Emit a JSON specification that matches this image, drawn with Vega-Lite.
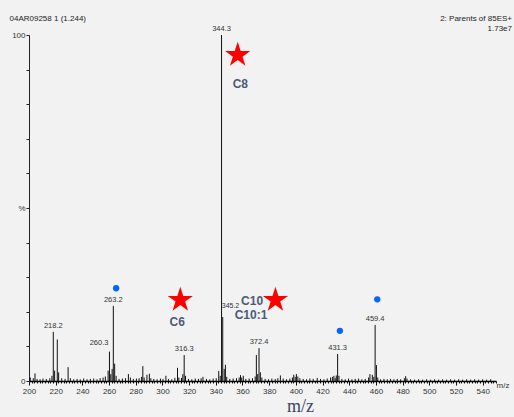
{
  "$schema": "https://vega.github.io/schema/vega-lite/v6.json",
  "width": 467,
  "height": 346,
  "autosize": {"type": "none"},
  "padding": {"left": 29, "top": 35, "right": 18, "bottom": 36},
  "background": "#f2f2f2",
  "config": {"view": {"stroke": null}, "font": "Liberation Sans"},
  "title": {
    "text": "2: Parents of 85ES+",
    "subtitle": "1.73e7",
    "anchor": "end",
    "frame": "group",
    "fontSize": 8,
    "subtitleFontSize": 8,
    "fontWeight": "normal",
    "color": "#222222",
    "subtitleColor": "#222222",
    "subtitlePadding": 2,
    "dx": 16,
    "dy": 23,
    "offset": 4,
    "font": "Liberation Sans",
    "subtitleFont": "Liberation Sans"
  },
  "datasets": {
    "spectrum": [
      {"mz": 201.0, "intensity": 1.0}, {"mz": 203.2, "intensity": 0.8}, {"mz": 204.5, "intensity": 2.2},
      {"mz": 206.0, "intensity": 0.6}, {"mz": 208.3, "intensity": 0.5}, {"mz": 210.5, "intensity": 0.7},
      {"mz": 213.0, "intensity": 0.6}, {"mz": 215.6, "intensity": 0.8}, {"mz": 217.2, "intensity": 1.5},
      {"mz": 218.2, "intensity": 14.2}, {"mz": 219.2, "intensity": 3.0}, {"mz": 221.2, "intensity": 12.0},
      {"mz": 222.2, "intensity": 2.5}, {"mz": 224.5, "intensity": 0.8}, {"mz": 227.0, "intensity": 0.6},
      {"mz": 229.3, "intensity": 4.0}, {"mz": 231.0, "intensity": 0.8}, {"mz": 233.5, "intensity": 0.5},
      {"mz": 236.0, "intensity": 0.6}, {"mz": 238.4, "intensity": 0.5}, {"mz": 241.0, "intensity": 0.7},
      {"mz": 243.5, "intensity": 0.5}, {"mz": 246.0, "intensity": 0.6}, {"mz": 248.5, "intensity": 0.7},
      {"mz": 251.0, "intensity": 0.5}, {"mz": 253.3, "intensity": 0.8}, {"mz": 255.5, "intensity": 1.0},
      {"mz": 257.2, "intensity": 1.3}, {"mz": 259.3, "intensity": 3.0}, {"mz": 260.3, "intensity": 8.5},
      {"mz": 261.3, "intensity": 2.0}, {"mz": 262.3, "intensity": 3.5}, {"mz": 263.2, "intensity": 21.7},
      {"mz": 264.2, "intensity": 5.0}, {"mz": 265.3, "intensity": 1.5}, {"mz": 267.5, "intensity": 0.6},
      {"mz": 270.0, "intensity": 0.7}, {"mz": 272.3, "intensity": 0.8}, {"mz": 274.5, "intensity": 2.0},
      {"mz": 276.0, "intensity": 1.0}, {"mz": 278.2, "intensity": 0.6}, {"mz": 280.5, "intensity": 0.7},
      {"mz": 282.5, "intensity": 0.8}, {"mz": 284.3, "intensity": 1.2}, {"mz": 285.3, "intensity": 4.3},
      {"mz": 286.3, "intensity": 1.0}, {"mz": 288.4, "intensity": 1.8}, {"mz": 290.2, "intensity": 2.1},
      {"mz": 291.3, "intensity": 0.8}, {"mz": 293.5, "intensity": 0.6}, {"mz": 296.0, "intensity": 0.5},
      {"mz": 298.5, "intensity": 0.7}, {"mz": 300.4, "intensity": 0.6}, {"mz": 302.6, "intensity": 1.5},
      {"mz": 304.5, "intensity": 0.6}, {"mz": 307.0, "intensity": 0.5}, {"mz": 309.3, "intensity": 0.9},
      {"mz": 311.3, "intensity": 3.8}, {"mz": 312.3, "intensity": 1.0}, {"mz": 314.3, "intensity": 0.9},
      {"mz": 315.3, "intensity": 2.0}, {"mz": 316.3, "intensity": 7.5}, {"mz": 317.3, "intensity": 1.5},
      {"mz": 319.5, "intensity": 0.6}, {"mz": 322.0, "intensity": 0.5}, {"mz": 324.6, "intensity": 0.7},
      {"mz": 327.0, "intensity": 0.6}, {"mz": 329.0, "intensity": 0.8}, {"mz": 330.4, "intensity": 1.2},
      {"mz": 333.0, "intensity": 0.6}, {"mz": 335.5, "intensity": 0.5}, {"mz": 338.0, "intensity": 0.7},
      {"mz": 340.3, "intensity": 0.8}, {"mz": 342.2, "intensity": 2.9}, {"mz": 343.3, "intensity": 1.5},
      {"mz": 344.3, "intensity": 100}, {"mz": 345.2, "intensity": 18.5}, {"mz": 346.3, "intensity": 3.5},
      {"mz": 347.2, "intensity": 4.7}, {"mz": 348.2, "intensity": 1.2}, {"mz": 350.5, "intensity": 0.6},
      {"mz": 353.0, "intensity": 0.7}, {"mz": 355.5, "intensity": 0.8}, {"mz": 357.5, "intensity": 1.0},
      {"mz": 358.5, "intensity": 1.7}, {"mz": 359.4, "intensity": 1.0}, {"mz": 360.6, "intensity": 1.5},
      {"mz": 362.5, "intensity": 0.6}, {"mz": 365.0, "intensity": 0.7}, {"mz": 367.5, "intensity": 0.8},
      {"mz": 369.5, "intensity": 1.3}, {"mz": 370.4, "intensity": 7.5}, {"mz": 371.4, "intensity": 2.0},
      {"mz": 372.4, "intensity": 9.5}, {"mz": 373.4, "intensity": 2.5}, {"mz": 374.5, "intensity": 1.0},
      {"mz": 377.0, "intensity": 0.6}, {"mz": 379.5, "intensity": 0.5}, {"mz": 382.0, "intensity": 0.7},
      {"mz": 384.5, "intensity": 0.6}, {"mz": 386.5, "intensity": 0.8}, {"mz": 388.4, "intensity": 1.6},
      {"mz": 390.5, "intensity": 0.7}, {"mz": 393.0, "intensity": 0.5}, {"mz": 395.5, "intensity": 0.7},
      {"mz": 397.4, "intensity": 1.0}, {"mz": 398.4, "intensity": 1.8}, {"mz": 399.5, "intensity": 1.2},
      {"mz": 400.4, "intensity": 2.0}, {"mz": 401.5, "intensity": 1.3}, {"mz": 403.0, "intensity": 0.8},
      {"mz": 405.5, "intensity": 0.6}, {"mz": 408.0, "intensity": 0.5}, {"mz": 410.5, "intensity": 0.7},
      {"mz": 413.0, "intensity": 0.6}, {"mz": 416.0, "intensity": 0.9}, {"mz": 418.5, "intensity": 0.6},
      {"mz": 421.0, "intensity": 0.5}, {"mz": 423.5, "intensity": 0.7}, {"mz": 426.0, "intensity": 1.0},
      {"mz": 427.4, "intensity": 1.2}, {"mz": 428.5, "intensity": 1.5}, {"mz": 429.5, "intensity": 0.8},
      {"mz": 430.3, "intensity": 1.6}, {"mz": 431.3, "intensity": 7.8}, {"mz": 432.3, "intensity": 1.5},
      {"mz": 434.5, "intensity": 0.6}, {"mz": 437.0, "intensity": 0.5}, {"mz": 439.5, "intensity": 0.7},
      {"mz": 442.0, "intensity": 0.5}, {"mz": 444.5, "intensity": 0.6}, {"mz": 447.0, "intensity": 0.7},
      {"mz": 449.5, "intensity": 0.5}, {"mz": 452.0, "intensity": 0.6}, {"mz": 454.5, "intensity": 1.0},
      {"mz": 455.5, "intensity": 2.0}, {"mz": 457.3, "intensity": 1.8}, {"mz": 458.4, "intensity": 1.2},
      {"mz": 459.4, "intensity": 16.2}, {"mz": 460.4, "intensity": 4.6}, {"mz": 461.4, "intensity": 1.0},
      {"mz": 463.5, "intensity": 0.5}, {"mz": 466.0, "intensity": 0.6}, {"mz": 468.5, "intensity": 0.5},
      {"mz": 471.0, "intensity": 0.6}, {"mz": 473.5, "intensity": 0.5}, {"mz": 476.0, "intensity": 0.6},
      {"mz": 478.5, "intensity": 0.5}, {"mz": 481.3, "intensity": 0.8}, {"mz": 482.3, "intensity": 1.4},
      {"mz": 483.3, "intensity": 0.7}, {"mz": 486.0, "intensity": 0.5}, {"mz": 489.0, "intensity": 0.4},
      {"mz": 492.0, "intensity": 0.5}, {"mz": 495.0, "intensity": 0.4}, {"mz": 498.0, "intensity": 0.5},
      {"mz": 501.0, "intensity": 0.4}, {"mz": 504.0, "intensity": 0.5}, {"mz": 507.0, "intensity": 0.4},
      {"mz": 510.0, "intensity": 0.5}, {"mz": 513.0, "intensity": 0.4}, {"mz": 516.0, "intensity": 0.5},
      {"mz": 519.0, "intensity": 0.4}, {"mz": 522.0, "intensity": 0.5}, {"mz": 525.0, "intensity": 0.4},
      {"mz": 528.0, "intensity": 0.5}, {"mz": 531.0, "intensity": 0.4}, {"mz": 534.0, "intensity": 0.5},
      {"mz": 537.0, "intensity": 0.4}, {"mz": 540.0, "intensity": 0.5}, {"mz": 543.0, "intensity": 0.4},
      {"mz": 546.0, "intensity": 0.5}
    ],
    "labels": [
      {"mz": 218.2, "intensity": 14.2, "label": "218.2"},
      {"mz": 260.3, "intensity": 8.5, "label": "260.3"},
      {"mz": 263.2, "intensity": 21.7, "label": "263.2"},
      {"mz": 316.3, "intensity": 7.5, "label": "316.3"},
      {"mz": 344.3, "intensity": 100, "label": "344.3"},
      {"mz": 345.2, "intensity": 18.5, "label": "345.2"},
      {"mz": 372.4, "intensity": 9.5, "label": "372.4"},
      {"mz": 431.3, "intensity": 7.8, "label": "431.3"},
      {"mz": 459.4, "intensity": 16.2, "label": "459.4"}
    ],
    "stars": [
      {"mz": 356.4, "intensity": 94.2, "series": "C8"},
      {"mz": 313.4, "intensity": 23.4, "series": "C6"},
      {"mz": 384.7, "intensity": 23.4, "series": "C10"}
    ],
    "starNames": [
      {"mz": 358.4, "intensity": 85.8, "name": "C8"},
      {"mz": 311.1, "intensity": 17.1, "name": "C6"},
      {"mz": 367.2, "intensity": 23.2, "name": "C10"},
      {"mz": 366.4, "intensity": 19.1, "name": "C10:1"}
    ],
    "dots": [
      {"mz": 265.3, "intensity": 26.8},
      {"mz": 433.0, "intensity": 14.5},
      {"mz": 461.0, "intensity": 23.6}
    ]
  },
  "encoding": {
    "x": {
      "field": "mz",
      "type": "quantitative",
      "scale": {"domain": [200, 550], "nice": false, "zero": false},
      "axis": {
        "title": "m/z",
        "titleFont": "Liberation Serif",
        "titleFontSize": 18,
        "titleFontWeight": "normal",
        "titleColor": "#3b4560",
        "titleX": 271,
        "titleY": 25,
        "titleAlign": "center",
        "titleBaseline": "middle",
        "tickCount": 175,
        "tickSize": {"condition": {"test": "datum.value % 20 === 0", "value": 4}, "value": 2},
        "tickColor": "#111111",
        "domainColor": "#000000",
        "domainWidth": 1.5,
        "grid": false,
        "labelFlush": false,
        "labelOverlap": false,
        "labelFontSize": 8,
        "labelColor": "#333333",
        "labelPadding": 2,
        "labelExpr": "datum.value === 550 ? 'm/z' : (datum.value % 20 === 0 ? datum.label : '')",
        "labelAlign": {"condition": {"test": "datum.value === 550", "value": "left"}, "value": "center"},
        "labelBaseline": {"condition": {"test": "datum.value === 550", "value": "middle"}, "value": "top"}
      }
    },
    "y": {
      "field": "intensity",
      "type": "quantitative",
      "scale": {"domain": [0, 100], "nice": false},
      "axis": {
        "title": "04AR09258 1 (1.244)",
        "titleAngle": 0,
        "titleX": -20,
        "titleY": -17,
        "titleAlign": "left",
        "titleBaseline": "middle",
        "titleFontSize": 8,
        "titleFontWeight": "normal",
        "titleColor": "#222222",
        "values": [0, 10, 20, 30, 40, 50, 60, 70, 80, 90, 100],
        "labelExpr": "datum.value === 100 ? '100' : (datum.value === 50 ? '%' : (datum.value === 0 ? '0' : ''))",
        "tickSize": 3,
        "tickColor": "#222222",
        "domainColor": "#222222",
        "grid": false,
        "labelPadding": 1,
        "labelFontSize": 8,
        "labelColor": "#333333",
        "labelBaseline": "middle"
      }
    }
  },
  "layer": [
    {
      "data": {"name": "spectrum"},
      "mark": {"type": "rule", "color": "#111111", "strokeWidth": 1},
      "encoding": {"y2": {"datum": 0}}
    },
    {
      "data": {"name": "labels"},
      "transform": [{"filter": "datum.label !== '260.3' && datum.label !== '345.2'"}],
      "mark": {"type": "text", "fontSize": 7.5, "color": "#333333", "baseline": "bottom", "dy": -2},
      "encoding": {"text": {"field": "label"}}
    },
    {
      "data": {"name": "labels"},
      "transform": [{"filter": "datum.label === '260.3'"}],
      "mark": {"type": "text", "fontSize": 7.5, "color": "#333333", "baseline": "bottom", "align": "right", "dx": -1, "dy": -5},
      "encoding": {"text": {"field": "label"}}
    },
    {
      "data": {"name": "labels"},
      "transform": [{"filter": "datum.label === '345.2'"}],
      "mark": {"type": "text", "fontSize": 7, "color": "#333333", "baseline": "bottom", "align": "left", "dx": -1, "dy": -8},
      "encoding": {"text": {"field": "label"}}
    },
    {
      "data": {"name": "stars"},
      "mark": {"type": "point", "shape": "M0,-1L0.2245,-0.309L0.951,-0.309L0.363,0.118L0.588,0.809L0,0.382L-0.588,0.809L-0.363,0.118L-0.951,-0.309L-0.2245,-0.309Z", "filled": true, "color": "#ff0000", "size": 700, "opacity": 1, "strokeWidth": 0}
    },
    {
      "data": {"name": "starNames"},
      "mark": {"type": "text", "fontSize": 12, "fontWeight": "bold", "color": "#4d5a78"},
      "encoding": {"text": {"field": "name"}}
    },
    {
      "data": {"name": "dots"},
      "mark": {"type": "circle", "color": "#0066ff", "size": 40, "opacity": 1}
    }
  ]
}
